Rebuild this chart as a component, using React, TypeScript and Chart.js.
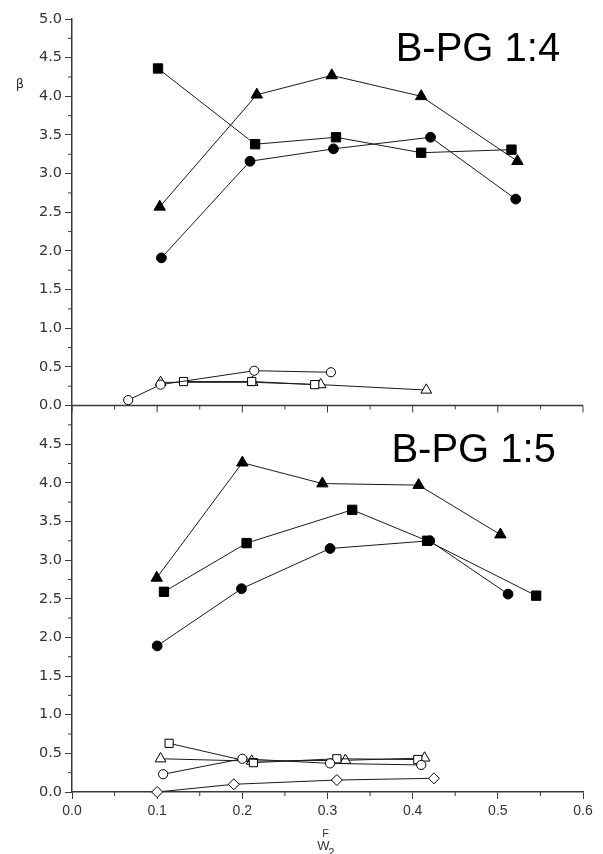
import React, { useEffect, useRef } from "react";
import { Chart, registerables } from "chart.js";

Chart.register(...registerables);

// ---- Data ----
// Top panel: B-PG 1:4
const topSquareX = [0.101, 0.215, 0.31, 0.41, 0.516];
const topSquareY = [4.36, 3.38, 3.47, 3.27, 3.31];
const topTriangleX = [0.103, 0.217, 0.305, 0.41, 0.523];
const topTriangleY = [2.57, 4.02, 4.27, 4.0, 3.16];
const topCircleX = [0.105, 0.209, 0.307, 0.421, 0.521];
const topCircleY = [1.91, 3.16, 3.32, 3.47, 2.67];
const topOpenCircleX = [0.066, 0.104, 0.214, 0.304];
const topOpenCircleY = [0.07, 0.27, 0.45, 0.43];
const topOpenTriangleX = [0.104, 0.212, 0.292, 0.416];
const topOpenTriangleY = [0.3, 0.3, 0.27, 0.2];
const topOpenSquareX = [0.131, 0.211, 0.285];
const topOpenSquareY = [0.31, 0.31, 0.27];

// Bottom panel: B-PG 1:5
const botTriangleX = [0.0995, 0.2, 0.294, 0.407, 0.503];
const botTriangleY = [2.77, 4.26, 3.99, 3.97, 3.33];
const botSquareX = [0.108, 0.205, 0.329, 0.417, 0.545];
const botSquareY = [2.59, 3.22, 3.65, 3.25, 2.54];
const botCircleX = [0.1, 0.199, 0.303, 0.42, 0.512];
const botCircleY = [1.89, 2.63, 3.15, 3.25, 2.56];
const botOpenSquareX = [0.114, 0.213, 0.311, 0.406];
const botOpenSquareY = [0.63, 0.38, 0.43, 0.42];
const botOpenTriangleX = [0.104, 0.211, 0.321, 0.414];
const botOpenTriangleY = [0.43, 0.4, 0.41, 0.44];
const botOpenCircleX = [0.107, 0.2, 0.303, 0.41];
const botOpenCircleY = [0.23, 0.43, 0.37, 0.35];
const botOpenDiamondX = [0.1, 0.19, 0.311, 0.425];
const botOpenDiamondY = [0.0, 0.1, 0.155, 0.177];

const panelTitles = ["B-PG 1:4", "B-PG 1:5"];
const yAxisLabel = "β";
const xAxisLabelMain = "W";
const xAxisLabelSup = "F";
const xAxisLabelSub = "2";

const X_MIN = 0;
const X_MAX = 0.6;
const Y_MIN = 0;
const Y_MAX = 5;

const AXIS_COLOR = "#3a3a3a";
const LINE_COLOR = "#1a1a1a";

const pts = (xs: number[], ys: number[]) => xs.map((x, i) => ({ x, y: ys[i] }));

type Mk = "rect" | "triangle" | "circle" | "rectRot";
const radiusFor = (s: Mk, open: boolean) => {
  if (s === "rect") return open ? 5.8 : 6.6;
  if (s === "triangle") return open ? 6.2 : 6.6;
  if (s === "circle") return open ? 4.6 : 4.9;
  return 5.5;
};

const series = (
  label: string,
  xs: number[],
  ys: number[],
  style: Mk,
  open: boolean,
  axis: string
) => ({
  label,
  data: pts(xs, ys),
  yAxisID: axis,
  xAxisID: "x",
  borderColor: LINE_COLOR,
  borderWidth: 1,
  pointStyle: style,
  pointRadius: radiusFor(style, open),
  pointBackgroundColor: open ? "#ffffff" : "#000000",
  pointBorderColor: "#000000",
  pointBorderWidth: 1,
  fill: false,
  tension: 0,
  clip: false as any,
});

const decorPlugin = {
  id: "decor",
  afterDraw(chart: any) {
    const ctx = chart.ctx as CanvasRenderingContext2D;
    const xs = chart.scales.x;
    const yTop = chart.scales.yTop;
    const yBot = chart.scales.yBot;
    ctx.save();
    ctx.strokeStyle = AXIS_COLOR;
    ctx.lineWidth = 1.5;

    // middle axis (x axis of the upper panel)
    const yMid = yTop.bottom;
    ctx.beginPath();
    ctx.moveTo(xs.left, yMid);
    ctx.lineTo(xs.right, yMid);
    ctx.stroke();

    ctx.lineWidth = 1;
    const majors = xs.ticks.map((t: any) => t.value);
    majors.forEach((v: number, i: number) => {
      const px = xs.getPixelForValue(v);
      ctx.beginPath();
      ctx.moveTo(px, yMid);
      ctx.lineTo(px, yMid + 7);
      ctx.stroke();
      if (i < majors.length - 1) {
        const m = (v + majors[i + 1]) / 2;
        const pm = xs.getPixelForValue(m);
        ctx.beginPath();
        ctx.moveTo(pm, yMid);
        ctx.lineTo(pm, yMid + 4);
        ctx.stroke();
        // minor ticks on the bottom x axis
        ctx.beginPath();
        ctx.moveTo(pm, xs.top);
        ctx.lineTo(pm, xs.top + 4);
        ctx.stroke();
      }
    });

    // minor ticks on y axes
    [yTop, yBot].forEach((ys: any) => {
      const vals = ys.ticks.map((t: any) => t.value);
      for (let i = 0; i < vals.length - 1; i++) {
        const m = (vals[i] + vals[i + 1]) / 2;
        const py = ys.getPixelForValue(m);
        ctx.beginPath();
        ctx.moveTo(ys.right - 4, py);
        ctx.lineTo(ys.right, py);
        ctx.stroke();
      }
    });

    // panel titles
    ctx.fillStyle = "#000000";
    ctx.font = '40px "Liberation Sans", Arial, sans-serif';
    ctx.textAlign = "left";
    ctx.textBaseline = "alphabetic";
    ctx.fillText(panelTitles[0], xs.getPixelForValue(0.380), yTop.getPixelForValue(4.46));
    ctx.fillText(panelTitles[1], xs.getPixelForValue(0.375), yBot.getPixelForValue(4.27));

    // y label
    ctx.fillStyle = "#333333";
    ctx.font = '13px "DejaVu Sans", sans-serif';
    ctx.textAlign = "center";
    ctx.textBaseline = "middle";
    ctx.fillText(yAxisLabel, 20, yTop.getPixelForValue(4.15));

    // x label W_2^F
    const lx = xs.getPixelForValue(0.288);
    const ly = xs.bottom - 4;
    ctx.textAlign = "left";
    ctx.textBaseline = "alphabetic";
    ctx.font = '13px "Liberation Sans", Arial, sans-serif';
    ctx.fillText(xAxisLabelMain, lx, ly);
    ctx.font = '11px "Liberation Sans", Arial, sans-serif';
    ctx.fillText(xAxisLabelSup, lx + 5, ly - 13);
    ctx.fillText(xAxisLabelSub, lx + 11, ly + 6);

    ctx.restore();
  },
};

export default function App() {
  const ref = useRef<HTMLCanvasElement | null>(null);

  useEffect(() => {
    if (!ref.current) return;
    const yAxis = (id: string, weight: number, hideTop: boolean) => ({
      type: "linear" as const,
      position: "left" as const,
      stack: "panels",
      stackWeight: 1,
      weight,
      min: Y_MIN,
      max: Y_MAX,
      ticks: {
        stepSize: 0.5,
        padding: 3,
        color: "#333333",
        font: { family: '"DejaVu Sans", sans-serif', size: 14.5 },
        callback: (v: any) => (hideTop && Math.abs(v - Y_MAX) < 1e-9 ? "" : Number(v).toFixed(1)),
      },
      grid: {
        drawOnChartArea: false,
        drawTicks: true,
        tickLength: 7,
        color: AXIS_COLOR,
      },
      border: { display: true, color: AXIS_COLOR, width: 1.5 },
      afterFit: (s: any) => {
        s.width = 72;
      },
    });

    const chart = new Chart(ref.current, {
      type: "line",
      data: {
        datasets: [
          series("top-square", topSquareX, topSquareY, "rect", false, "yTop"),
          series("top-triangle", topTriangleX, topTriangleY, "triangle", false, "yTop"),
          series("top-circle", topCircleX, topCircleY, "circle", false, "yTop"),
          series("top-open-circle", topOpenCircleX, topOpenCircleY, "circle", true, "yTop"),
          series("top-open-square", topOpenSquareX, topOpenSquareY, "rect", true, "yTop"),
          series("top-open-triangle", topOpenTriangleX, topOpenTriangleY, "triangle", true, "yTop"),
          series("bot-triangle", botTriangleX, botTriangleY, "triangle", false, "yBot"),
          series("bot-square", botSquareX, botSquareY, "rect", false, "yBot"),
          series("bot-circle", botCircleX, botCircleY, "circle", false, "yBot"),
          series("bot-open-diamond", botOpenDiamondX, botOpenDiamondY, "rectRot", true, "yBot"),
          series("bot-open-circle", botOpenCircleX, botOpenCircleY, "circle", true, "yBot"),
          series("bot-open-square", botOpenSquareX, botOpenSquareY, "rect", true, "yBot"),
          series("bot-open-triangle", botOpenTriangleX, botOpenTriangleY, "triangle", true, "yBot"),
        ] as any,
      },
      options: {
        animation: false,
        responsive: false,
        devicePixelRatio: 1,
        events: [],
        layout: { padding: { left: 0, top: 19, right: 20, bottom: 0 } },
        plugins: {
          legend: { display: false },
          tooltip: { enabled: false },
          title: { display: false },
        },
        scales: {
          x: {
            type: "linear",
            position: "bottom",
            min: X_MIN,
            max: X_MAX,
            ticks: {
              stepSize: 0.1,
              padding: 4,
              color: "#333333",
              font: { family: '"Liberation Sans", Arial, sans-serif', size: 14 },
              callback: (v: any) => Number(v).toFixed(1),
            },
            grid: {
              drawOnChartArea: false,
              drawTicks: true,
              tickLength: 7,
              color: AXIS_COLOR,
            },
            border: { display: true, color: AXIS_COLOR, width: 1.5 },
            afterFit: (s: any) => {
              s.height = 62;
            },
          },
          yBot: yAxis("yBot", 1, true),
          yTop: yAxis("yTop", 2, false),
        } as any,
      },
      plugins: [decorPlugin],
    });
    return () => chart.destroy();
  }, []);

  return (
    <div style={{ position: "fixed", left: 0, top: 0, width: 603, height: 854, background: "#fff" }}>
      <canvas ref={ref} width={603} height={854} style={{ display: "block", width: 603, height: 854 }} />
    </div>
  );
}
